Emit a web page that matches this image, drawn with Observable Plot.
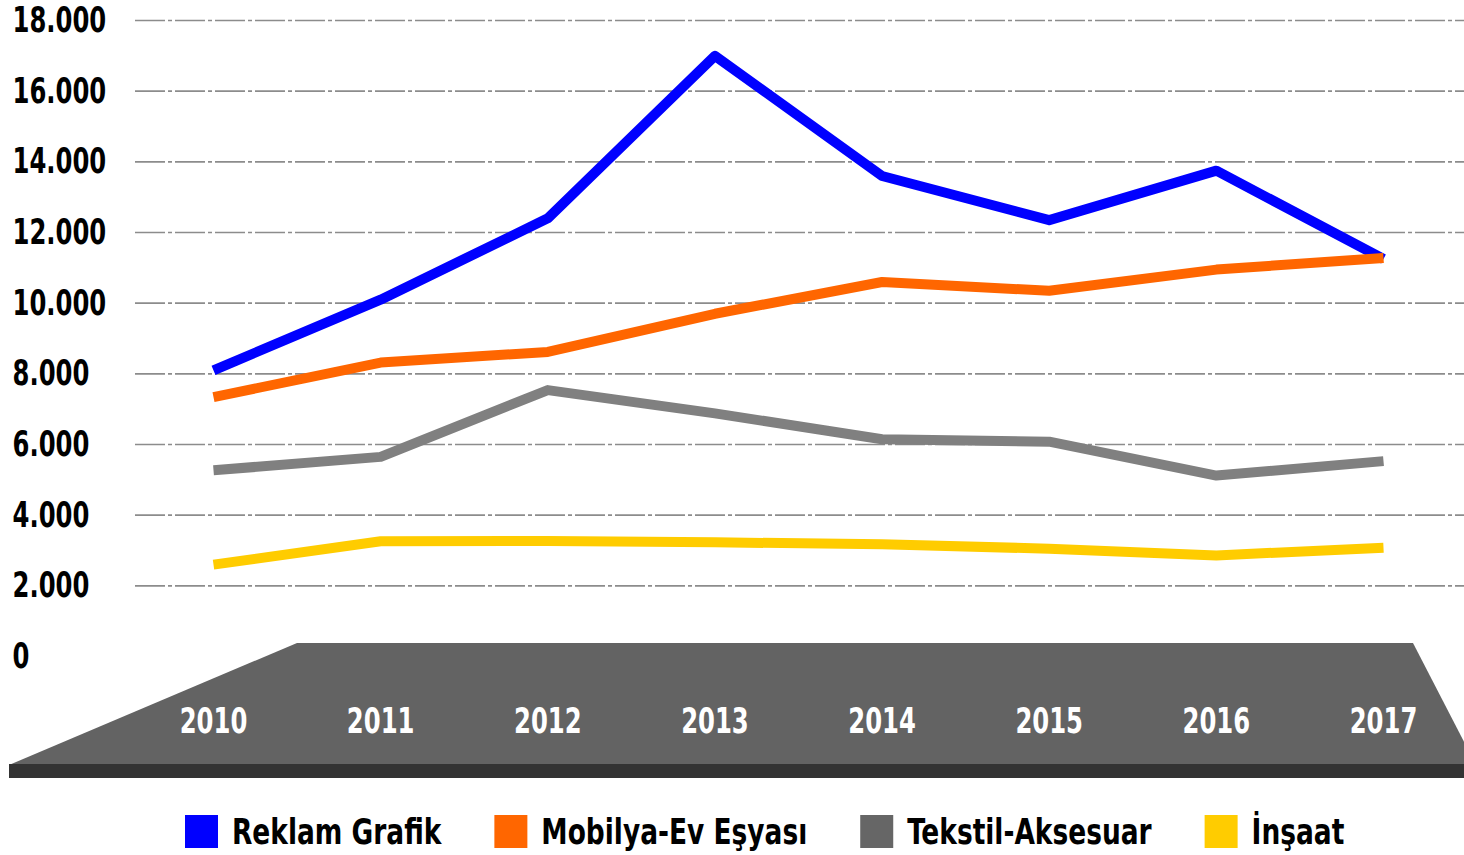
<!DOCTYPE html>
<html>
<head>
<meta charset="utf-8">
<script src="https://cdn.jsdelivr.net/npm/d3@7"></script>
<script src="https://cdn.jsdelivr.net/npm/@observablehq/plot@0.6"></script>
<style>
  html, body { margin: 0; padding: 0; background: #fff; }
  body { width: 1464px; height: 855px; overflow: hidden; position: relative; font-family: "DejaVu Sans Condensed", sans-serif; }
  #chart { position: absolute; left: 0; top: 0; }
  #legend { position: absolute; left: 0; top: 785px; }
</style>
</head>
<body>
<div id="chart"></div>
<div id="legend"></div>
<script>
const years = [2010, 2011, 2012, 2013, 2014, 2015, 2016, 2017];
const seriesNames = ["Reklam Grafik", "Mobilya-Ev Eşyası", "Tekstil-Aksesuar", "İnşaat"];
const reklam   = [8100, 10100, 12400, 17000, 13600, 12350, 13750, 11250];
const mobilya  = [7340, 8320, 8620, 9700, 10600, 10350, 10950, 11280];
const tekstil  = [5270, 5650, 7540, 6880, 6150, 6080, 5120, 5530];
const insaat   = [2600, 3260, 3270, 3230, 3180, 3050, 2860, 3080];
const seriesColors = ["#0000FF", "#FF6600", "#808080", "#FFCC00"];
const legendColors = ["#0000FF", "#FF6600", "#666666", "#FFCC00"];
const yTicks = [0, 2000, 4000, 6000, 8000, 10000, 12000, 14000, 16000, 18000];

const seriesValues = [reklam, mobilya, tekstil, insaat];
const data = [];
seriesNames.forEach((s, i) => years.forEach((y, j) => data.push({series: s, year: y, value: seriesValues[i][j]})));

const fmt = d => d3.format(",")(d).replace(/,/g, ".");
const font = '"DejaVu Sans Condensed", sans-serif';
const squeeze = 0.75;

const plot = Plot.plot({
  width: 1464,
  height: 785,
  marginLeft: 135,
  marginRight: 0,
  marginTop: 20,
  marginBottom: 129,
  style: {fontFamily: font, background: "white", overflow: "visible"},
  x: {type: "linear", domain: [2010, 2017], range: [213, 1383], axis: null, label: null},
  y: {domain: [0, 18000], axis: null, label: null},
  color: {domain: seriesNames, range: seriesColors},
  marks: [
    Plot.gridY(yTicks.filter(d => d > 0), {stroke: "#8c8c8c", strokeOpacity: 1, strokeWidth: 1.6, strokeDasharray: "30,3,4,3"}),
    Plot.axisY(yTicks, {label: null, tickSize: 0, tickPadding: 3, textAnchor: "start", dx: -120, tickFormat: fmt, fontSize: 36, fontWeight: "bold", fill: "#000"}),
    Plot.axisX(years, {label: null, tickSize: 0, tickPadding: 51, tickFormat: d => String(d), fontSize: 36, fontWeight: "bold", fill: "#fff"}),
    Plot.line(data, {x: "year", y: "value", z: "series", stroke: "series", strokeWidth: 10, strokeLinecap: "butt", strokeLinejoin: "round"})
  ]
});
document.getElementById("chart").appendChild(plot);

// narrow the bold labels to mimic the condensed typeface of the original
d3.select(plot).selectAll("text").each(function() {
  const w = this.getComputedTextLength();
  if (w > 0) {
    this.setAttribute("textLength", w * squeeze);
    this.setAttribute("lengthAdjust", "spacingAndGlyphs");
  }
});

// decorative floor (3D base) behind the year labels
const svg = d3.select(plot);
const g = svg.insert("g", ":first-child");
g.append("polygon").attr("points", "297,643 1413,643 1476,765 9,765").attr("fill", "#636363");
g.append("rect").attr("x", 9).attr("y", 764).attr("width", 1455).attr("height", 14).attr("fill", "#333333");

// legend
const lg = d3.select("#legend").append("svg").attr("width", 1464).attr("height", 70)
  .style("font-family", font);
let x = 185;
seriesNames.forEach((s, i) => {
  lg.append("rect").attr("x", x).attr("y", 30).attr("width", 33).attr("height", 33).attr("fill", legendColors[i]);
  const t = lg.append("text").attr("x", x + 47).attr("y", 59).attr("font-size", 35).attr("font-weight", "bold").attr("fill", "#000").text(s);
  const w = t.node().getComputedTextLength() * 0.84;
  t.attr("textLength", w).attr("lengthAdjust", "spacingAndGlyphs");
  x += 47 + w + 53;
});
</script>
</body>
</html>
